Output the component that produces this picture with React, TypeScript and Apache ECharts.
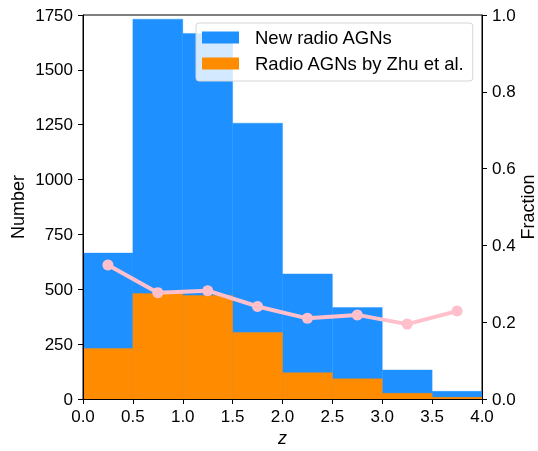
import React, { useEffect, useRef } from "react";
import * as echarts from "echarts";

const binEdges = [0, 0.5, 1.0, 1.5, 2.0, 2.5, 3.0, 3.5, 4.0];
const newRadioCounts = [665, 1731, 1666, 1257, 570, 417, 132, 35];
const zhuCounts = [230, 481, 472, 303, 120, 92, 26, 8];
const binCenters = [0.25, 0.75, 1.25, 1.75, 2.25, 2.75, 3.25, 3.75];
const fractions = [0.349, 0.277, 0.282, 0.241, 0.21, 0.219, 0.195, 0.229];
const xTicks = [0, 0.5, 1.0, 1.5, 2.0, 2.5, 3.0, 3.5, 4.0];
const leftTicks = [0, 250, 500, 750, 1000, 1250, 1500, 1750];
const rightTicks = [0.0, 0.2, 0.4, 0.6, 0.8, 1.0];

const FONT = "'Liberation Sans', Arial, sans-serif";
const TICK_FS = 17;
const NAME_FS = 18;
const LEGEND_FS = 18.5;

function histData(counts: number[]) {
  return counts.map((c, i) => [binEdges[i], binEdges[i + 1], c]);
}

function renderBin(params: any, api: any) {
  const p0 = api.coord([api.value(0), 0]);
  const p1 = api.coord([api.value(1), api.value(2)]);
  const color = api.visual("color");
  return {
    type: "rect",
    shape: { x: p0[0], y: p1[1], width: p1[0] - p0[0], height: p0[1] - p1[1] },
    style: { fill: color, stroke: color, lineWidth: 0.4 },
  };
}

export default function App() {
  const ref = useRef<HTMLDivElement>(null);
  useEffect(() => {
    if (!ref.current) return;
    const chart = echarts.init(ref.current, undefined, { renderer: "svg" });
    const axisCommon = {
      axisLine: { show: true, onZero: false, lineStyle: { color: "#000", width: 1 } },
      axisTick: { show: true, inside: false, length: 5, lineStyle: { color: "#000", width: 1 } },
      splitLine: { show: false },
      nameMoveOverlap: false,
      z: 10,
    };
    const labelCommon = {
      show: true,
      fontSize: TICK_FS,
      color: "#000",
      margin: 10,
      fontFamily: FONT,
    };
    chart.setOption({
      animation: false,
      textStyle: { fontFamily: FONT },
      grid: {
        left: 83,
        right: 56,
        top: 15,
        bottom: 52,
        containLabel: false,
        outerBoundsMode: "none",
        show: true,
        borderColor: "#000",
        borderWidth: 1,
        backgroundColor: "transparent",
      },
      legend: {
        show: true,
        data: ["New radio AGNs", "Radio AGNs by Zhu et al."],
        orient: "vertical",
        left: 196,
        top: 23,
        icon: "rect",
        itemWidth: 37,
        itemHeight: 12,
        itemGap: 7,
        padding: [5, 8, 8, 6],
        backgroundColor: "rgba(255,255,255,0.8)",
        borderColor: "#d6d6d6",
        borderWidth: 1,
        borderRadius: 3,
        textStyle: {
          fontSize: LEGEND_FS,
          color: "#000",
          fontFamily: FONT,
          lineHeight: 18,
          padding: [0, 0, 0, 11],
        },
        z: 50,
      },
      xAxis: [
        {
          type: "value",
          min: 0,
          max: 4,
          interval: 0.5,
          position: "bottom",
          ...axisCommon,
          axisLabel: {
            ...labelCommon,
            margin: 9,
            formatter: (v: number) => (xTicks.includes(v) ? v.toFixed(1) : ""),
          },
          name: "z",
          nameLocation: "middle",
          nameGap: 30,
          nameTextStyle: { fontSize: NAME_FS, fontStyle: "italic", color: "#000", fontFamily: FONT },
        },
      ],
      yAxis: [
        {
          type: "value",
          min: 0,
          max: 1750,
          interval: 250,
          position: "left",
          ...axisCommon,
          axisLabel: {
            ...labelCommon,
            formatter: (v: number) => (leftTicks.includes(v) ? String(v) : ""),
          },
          name: "Number",
          nameLocation: "middle",
          nameGap: 56,
          nameTextStyle: { fontSize: NAME_FS, color: "#000", fontFamily: FONT },
        },
        {
          type: "value",
          min: 0,
          max: 1,
          interval: 0.2,
          position: "right",
          ...axisCommon,
          axisLabel: {
            ...labelCommon,
            formatter: (v: number) =>
              rightTicks.some((t) => Math.abs(t - v) < 1e-9) ? v.toFixed(1) : "",
          },
          name: "Fraction",
          nameLocation: "middle",
          nameGap: 37,
          nameRotate: 90,
          nameTextStyle: { fontSize: NAME_FS, color: "#000", fontFamily: FONT },
        },
      ],
      series: [
        {
          name: "New radio AGNs",
          type: "custom",
          xAxisIndex: 0,
          yAxisIndex: 0,
          renderItem: renderBin,
          encode: { x: [0, 1], y: 2 },
          itemStyle: { color: "#1e90ff" },
          data: histData(newRadioCounts),
          z: 2,
        },
        {
          name: "Radio AGNs by Zhu et al.",
          type: "custom",
          xAxisIndex: 0,
          yAxisIndex: 0,
          renderItem: renderBin,
          encode: { x: [0, 1], y: 2 },
          itemStyle: { color: "#ff8c00" },
          data: histData(zhuCounts),
          z: 3,
        },
        {
          name: "Fraction",
          type: "line",
          xAxisIndex: 0,
          yAxisIndex: 1,
          data: binCenters.map((c, i) => [c, fractions[i]]),
          symbol: "circle",
          symbolSize: 11,
          lineStyle: { color: "#ffc0cb", width: 4 },
          itemStyle: { color: "#ffc0cb" },
          z: 5,
        },
      ],
    });
    return () => chart.dispose();
  }, []);
  return (
    <div
      ref={ref}
      style={{ position: "fixed", left: 0, top: 0, width: 538, height: 451 }}
    />
  );
}
